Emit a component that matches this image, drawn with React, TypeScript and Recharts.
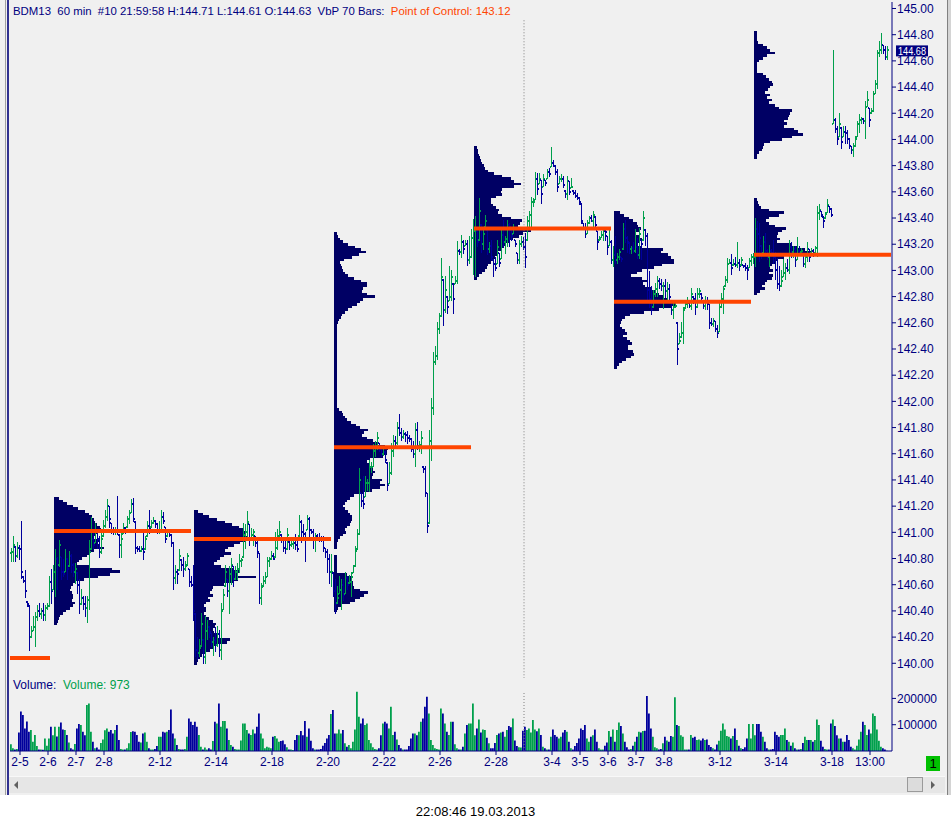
import React from 'react';
import { ComposedChart, Bar, XAxis, YAxis, ReferenceArea, ReferenceLine, Cell } from 'recharts';

// ---------- DATA ----------
// 60-minute bars, index 0 = first visible bar (2-4 evening), 14 bars per trading day
const highs = [
140.88,140.97,140.89,140.92,140.90,141.08,140.66,140.71,140.47,140.44,
140.28,140.36,140.39,140.44,140.46,140.42,140.46,140.44,140.46,140.66,
140.72,140.75,140.87,140.81,140.94,140.81,140.79,140.87,140.80,140.85,
140.83,140.76,140.76,140.69,140.64,140.56,140.51,140.51,140.51,140.94,
141.11,140.99,141.07,141.02,140.97,140.99,141.09,141.17,141.25,141.20,
141.07,141.04,141.04,141.27,140.98,141.02,141.07,141.04,141.12,141.17,
141.25,141.26,141.08,140.89,140.89,140.89,141.02,140.97,141.08,141.17,
141.09,141.11,141.09,141.07,141.08,141.17,141.15,141.04,141.02,141.02,
140.98,140.92,140.75,140.72,140.87,140.79,140.81,140.78,140.84,140.72,
140.66,140.75,140.38,140.20,140.18,140.38,140.18,140.36,140.33,140.28,
140.23,140.20,140.27,140.28,140.25,140.46,140.56,140.75,140.64,140.74,
140.80,140.74,140.74,140.76,140.83,140.80,141.07,141.06,141.16,141.06,
141.03,141.02,140.97,140.93,140.84,140.61,140.66,140.69,140.81,140.81,
140.85,140.84,141.00,141.02,141.08,140.98,140.94,140.93,141.03,140.93,
140.94,140.93,140.98,140.93,141.13,141.09,141.06,141.00,141.13,141.11,
141.02,141.02,140.99,140.98,140.99,140.97,140.97,140.88,140.87,140.83,
140.83,140.69,140.64,140.59,140.66,140.64,140.64,140.69,140.66,140.67,
140.69,140.75,140.89,141.02,141.49,141.30,141.43,141.43,141.40,141.55,
141.53,141.67,141.69,141.76,141.68,141.64,141.65,141.62,141.53,141.53,
141.68,141.74,141.73,141.84,141.90,141.79,141.78,141.76,141.77,141.74,
141.72,141.69,141.83,141.84,141.69,141.77,141.50,141.50,141.30,141.78,
142.02,142.37,142.42,142.60,142.67,143.09,142.93,142.95,142.80,143.03,
143.00,142.90,142.95,143.22,143.16,143.27,143.23,143.23,143.23,143.26,
143.31,143.39,143.41,143.33,143.55,143.35,143.31,143.42,143.31,143.21,
143.23,143.08,143.10,143.23,143.13,143.31,143.38,143.26,143.38,143.36,
143.31,143.35,143.23,143.13,143.23,143.26,143.25,143.28,143.41,143.45,
143.56,143.55,143.75,143.74,143.74,143.69,143.73,143.69,143.77,143.78,
143.94,143.84,143.80,143.77,143.72,143.73,143.72,143.61,143.72,143.68,
143.70,143.61,143.61,143.59,143.56,143.51,143.36,143.36,143.38,143.41,
143.42,143.45,143.41,143.30,143.26,143.30,143.32,143.31,143.26,143.31,
143.23,143.18,143.26,143.13,143.16,143.10,143.36,143.38,143.26,143.21,
143.18,143.21,143.31,143.24,143.32,143.23,143.45,143.31,143.28,142.99,
142.88,142.85,142.90,142.95,142.94,142.93,142.91,142.93,142.91,142.89,
142.77,142.76,142.75,142.60,142.52,142.60,142.72,142.75,142.79,142.75,
142.86,142.80,142.82,142.86,142.86,142.82,142.77,142.80,142.79,142.74,
142.63,142.63,142.61,142.58,142.77,142.82,142.88,142.95,143.09,143.08,
143.12,143.08,143.10,143.21,143.08,143.10,143.04,143.05,143.04,143.09,
143.12,143.13,143.40,143.37,143.36,143.19,143.26,143.28,143.16,143.19,
143.16,143.23,143.14,143.09,143.03,143.00,143.08,143.05,143.08,143.23,
143.21,143.18,143.18,143.25,143.18,143.17,143.13,143.13,143.21,143.16,
143.17,143.16,143.18,143.49,143.50,143.45,143.41,143.44,143.54,143.49,
143.47,144.68,144.16,144.10,144.20,144.09,144.10,144.10,144.07,144.01,
143.95,143.97,144.02,144.14,144.19,144.17,144.16,144.29,144.37,144.24,
144.24,144.37,144.45,144.68,144.75,144.81,144.72,144.71,144.71
];
const lows = [
140.78,140.78,140.78,140.81,140.79,140.65,140.62,140.50,140.43,140.10,
140.20,140.25,140.13,140.33,140.36,140.34,140.33,140.33,140.41,140.43,
140.46,140.56,140.51,140.56,140.74,140.64,140.66,140.70,140.64,140.74,
140.69,140.66,140.61,140.53,140.38,140.45,140.41,140.36,140.31,140.41,
140.87,140.87,140.92,140.88,140.81,140.84,140.97,141.04,141.09,141.04,
140.99,140.98,140.98,140.98,140.81,140.81,140.99,140.99,141.04,141.07,
141.15,141.08,140.84,140.85,140.85,140.85,140.79,140.87,140.97,140.99,
141.04,141.07,141.04,140.99,140.99,141.02,141.07,140.92,140.97,140.97,
140.89,140.56,140.61,140.61,140.71,140.71,140.66,140.71,140.75,140.59,
140.59,140.33,140.05,140.03,140.05,140.13,140.00,140.00,140.18,140.20,
140.13,140.06,140.09,140.13,140.05,140.03,140.41,140.59,140.51,140.38,
140.60,140.59,140.64,140.64,140.69,140.74,140.81,140.88,140.97,140.90,
140.94,140.90,140.89,140.81,140.46,140.45,140.59,140.61,140.66,140.74,
140.79,140.79,140.81,140.87,140.94,140.92,140.85,140.84,140.87,140.87,
140.89,140.88,140.87,140.85,140.97,140.92,140.97,140.78,141.02,140.97,
140.99,140.88,140.85,140.94,140.93,140.93,140.85,140.81,140.69,140.61,
140.59,140.51,140.38,140.46,140.53,140.41,140.48,140.53,140.56,140.61,
140.51,140.69,140.74,140.87,140.98,141.20,141.18,141.27,141.32,141.31,
141.46,141.50,141.58,141.63,141.62,141.58,141.59,141.53,141.32,141.37,
141.44,141.58,141.65,141.67,141.74,141.70,141.72,141.69,141.68,141.69,
141.62,141.57,141.50,141.63,141.62,141.60,141.46,141.27,141.00,141.07,
141.55,141.90,142.28,142.32,142.52,142.65,142.58,142.68,142.67,142.77,
142.77,142.67,142.90,142.90,143.12,143.10,143.13,143.19,143.04,143.05,
143.10,142.97,142.95,143.18,143.23,143.14,143.16,143.33,143.12,143.14,
143.08,142.95,143.00,143.05,143.03,143.09,143.18,143.13,143.18,143.18,
143.23,143.28,143.18,143.05,143.05,143.18,143.16,143.02,143.23,143.33,
143.33,143.49,143.54,143.58,143.66,143.51,143.64,143.65,143.70,143.72,
143.79,143.79,143.73,143.60,143.66,143.68,143.63,143.56,143.54,143.58,
143.63,143.58,143.56,143.54,143.50,143.36,143.31,143.25,143.28,143.36,
143.37,143.31,143.33,143.16,143.23,143.25,143.23,143.23,143.12,143.19,
143.05,143.03,143.05,143.05,143.08,143.07,143.16,143.21,143.14,143.13,
143.13,143.14,143.14,143.09,143.09,143.08,143.23,143.19,142.77,142.72,
142.66,142.72,142.80,142.80,142.86,142.85,142.71,142.79,142.77,142.77,
142.66,142.63,142.72,142.28,142.44,142.49,142.44,142.71,142.72,142.72,
142.70,142.75,142.66,142.72,142.79,142.76,142.71,142.70,142.70,142.56,
142.58,142.57,142.53,142.49,142.53,142.72,142.67,142.88,142.91,143.05,
142.97,143.04,143.03,143.02,143.00,143.04,143.02,143.00,142.93,143.02,
143.04,143.05,143.03,143.13,143.07,143.09,143.13,143.12,143.08,143.03,
143.12,143.05,142.93,142.86,142.85,142.88,142.95,142.93,142.99,142.98,
143.10,143.10,143.03,143.08,143.13,143.13,143.03,143.02,143.07,143.07,
143.13,143.11,143.13,143.11,143.39,143.41,143.33,143.40,143.44,143.44,
143.41,144.12,144.05,143.96,144.02,143.93,144.02,143.97,143.97,143.93,
143.89,143.87,143.95,144.02,144.05,144.12,144.12,144.01,144.25,144.10,
144.20,144.21,144.35,144.39,144.63,144.66,144.66,144.61,144.61
];
const closes = [
140.85,140.90,140.82,140.88,140.87,140.70,140.63,140.55,140.45,140.20,
140.25,140.28,140.35,140.40,140.38,140.40,140.37,140.42,140.44,140.62,
140.55,140.70,140.80,140.75,140.90,140.70,140.68,140.80,140.72,140.82,
140.75,140.70,140.72,140.60,140.45,140.50,140.45,140.42,140.48,140.85,
140.95,140.90,141.00,140.95,140.85,140.95,141.05,141.12,141.20,141.10,
141.02,141.00,141.01,141.00,140.90,140.95,141.03,141.00,141.10,141.15,
141.22,141.10,140.88,140.87,140.86,140.87,140.85,140.95,141.05,141.03,
141.07,141.09,141.06,141.01,141.02,141.12,141.09,140.95,141.00,140.98,
140.92,140.65,140.70,140.68,140.82,140.75,140.72,140.74,140.82,140.62,
140.60,140.40,140.10,140.08,140.12,140.30,140.05,140.25,140.28,140.24,
140.16,140.18,140.14,140.22,140.10,140.40,140.52,140.70,140.55,140.68,
140.75,140.64,140.70,140.72,140.78,140.79,140.98,141.00,141.08,140.95,
140.98,141.00,140.92,140.85,140.50,140.58,140.63,140.66,140.78,140.80,
140.82,140.80,140.88,140.97,141.00,140.95,140.88,140.87,140.98,140.90,
140.91,140.92,140.90,140.87,141.08,141.00,140.99,140.95,141.10,141.02,
141.00,140.95,140.97,140.96,140.95,140.94,140.88,140.85,140.80,140.70,
140.70,140.55,140.45,140.50,140.56,140.60,140.52,140.65,140.60,140.62,
140.66,140.74,140.86,140.99,141.40,141.24,141.22,141.38,141.38,141.50,
141.50,141.62,141.66,141.72,141.65,141.60,141.61,141.55,141.36,141.45,
141.62,141.70,141.68,141.80,141.76,141.73,141.75,141.74,141.72,141.71,
141.64,141.60,141.78,141.66,141.67,141.72,141.48,141.30,141.05,141.70,
141.95,142.30,142.35,142.55,142.65,142.95,142.70,142.85,142.72,142.80,
142.95,142.78,142.92,143.15,143.14,143.22,143.16,143.20,143.08,143.10,
143.25,143.30,143.30,143.22,143.45,143.20,143.28,143.38,143.16,143.19,
143.10,143.05,143.02,143.18,143.06,143.27,143.22,143.24,143.35,143.33,
143.26,143.32,143.20,143.08,143.20,143.22,143.18,143.10,143.38,143.42,
143.52,143.52,143.70,143.62,143.70,143.58,143.70,143.67,143.75,143.74,
143.82,143.80,143.75,143.64,143.70,143.70,143.65,143.58,143.68,143.60,
143.64,143.59,143.57,143.55,143.52,143.38,143.32,143.28,143.36,143.40,
143.38,143.42,143.35,143.22,143.24,143.27,143.30,143.29,143.18,143.22,
143.08,143.12,143.08,143.10,143.14,143.09,143.32,143.25,143.22,143.16,
143.17,143.15,143.18,143.12,143.28,143.20,143.40,143.26,142.85,142.78,
142.70,142.82,142.86,142.92,142.90,142.88,142.88,142.84,142.86,142.80,
142.70,142.72,142.73,142.40,142.46,142.52,142.70,142.74,142.76,142.73,
142.82,142.78,142.72,142.82,142.84,142.79,142.73,142.77,142.74,142.60,
142.59,142.61,142.55,142.52,142.72,142.78,142.86,142.93,143.05,143.06,
143.02,143.05,143.04,143.06,143.03,143.08,143.03,143.02,143.00,143.07,
143.10,143.10,143.32,143.28,143.25,143.12,143.22,143.15,143.10,143.15,
143.13,143.10,143.00,142.90,142.88,142.92,142.98,143.02,143.00,143.18,
143.14,143.16,143.08,143.15,143.14,143.15,143.05,143.10,143.16,143.10,
143.15,143.13,143.17,143.44,143.46,143.42,143.38,143.43,143.50,143.47,
143.42,144.15,144.08,144.00,144.12,143.98,144.06,144.05,144.00,143.95,
143.92,143.95,144.00,144.12,144.15,144.16,144.14,144.25,144.30,144.15,
144.22,144.35,144.42,144.66,144.68,144.72,144.68,144.63,144.68
];
const firstOpen = 140.84;
// hourly volume, thousands of contracts
const volumeK = [
26,10,6,8,70,
150,137,86,112,73,80,35,61,19,6,6,5,48,20,
48,92,60,92,55,92,108,82,80,61,32,10,6,27,
86,103,99,73,60,175,181,73,35,10,13,6,30,44,
79,86,73,80,67,80,99,42,8,6,6,10,29,72,
75,73,61,35,32,67,70,35,10,6,6,8,19,54,
54,73,70,73,80,158,67,48,23,8,6,6,8,54,
124,111,99,111,92,61,16,6,13,6,10,6,38,111,
105,181,92,114,114,86,42,23,16,8,6,6,40,105,
105,80,67,61,82,67,92,143,67,48,10,16,13,10,
54,57,48,35,38,40,26,14,6,6,4,42,61,60,
76,60,114,54,86,39,10,6,6,6,8,20,30,48,
61,141,156,67,67,82,67,80,29,16,23,10,35,82,
225,130,105,124,99,105,42,29,14,8,6,10,60,105,
111,105,86,168,61,73,44,23,10,6,6,6,19,48,
67,67,60,73,111,124,168,206,143,42,23,10,8,6,
162,143,105,73,61,111,111,26,10,6,6,16,67,99,
105,105,181,60,86,120,70,82,80,50,29,10,10,30,
61,67,70,73,54,80,95,90,124,40,19,14,13,77,
92,80,86,70,118,82,75,86,61,16,10,6,6,54,
82,61,54,48,54,70,80,73,35,10,6,19,30,48,
86,80,99,48,35,54,60,82,35,10,6,6,20,32,
76,54,82,35,80,108,95,67,35,14,6,8,20,35,
54,73,70,76,77,209,143,86,54,14,10,6,8,29,
54,40,35,57,54,204,99,95,60,54,6,6,6,61,
50,54,42,44,40,48,42,44,23,15,10,6,25,39,
77,105,82,57,54,48,57,86,42,20,10,8,14,48,
103,48,103,60,103,103,73,54,35,10,6,6,8,73,
61,54,61,61,86,42,35,20,32,10,6,6,8,30,
54,42,42,42,35,42,120,99,39,16,8,6,6,105,
120,95,60,48,48,35,35,61,42,16,10,6,20,44,
73,111,99,61,82,67,143,133,82,39,16,10,6,0.973
];

// date axis: bar index where each labelled session starts
const dayTickBars = [5, 19, 33, 47, 75, 103, 131, 159, 187, 215, 243, 271, 285, 299, 313, 327, 355, 383, 411, 430];
const dayTickLabels = ['2-5', '2-6', '2-7', '2-8', '2-12', '2-14', '2-18', '2-20', '2-22', '2-26', '2-28', '3-4', '3-5', '3-6', '3-7', '3-8', '3-12', '3-14', '3-18', '13:00'];
const priceTicks = [140.0, 140.2, 140.4, 140.6, 140.8, 141.0, 141.2, 141.4, 141.6, 141.8, 142.0, 142.2, 142.4, 142.6, 142.8, 143.0, 143.2, 143.4, 143.6, 143.8, 144.0, 144.2, 144.4, 144.6, 144.8, 145.0];
const volumeTicks = [100, 200];
const monthStartBar = 257;

// Volume-by-price profiles (70-bar windows); rows every 0.02 from the top price
const profileStartBars = [22, 92, 162, 232, 302, 372];
const profileTopPrices = [141.26, 141.16, 143.28, 143.94, 143.44, 144.82];
const profile1 = [5,9,13,19,24,31,35,38,40,41,43,46,47,44,41,40,46,43,46,50,40,36,33,28,25,23,35,58,66,56,44,30,22,19,17,16,18,19,19,18,21,19,16,12,9,6,5,4,3];
const profile2 = [4,9,15,23,31,38,45,50,52,50,53,51,46,40,34,31,37,30,26,23,20,27,39,46,44,62,44,39,30,19,18,16,19,14,16,12,10,12,12,10,12,15,19,22,21,19,20,23,23,36,33,23,19,16,11,8,6,4,3];
const profile3 = [3,4,6,9,14,21,27,32,25,18,10,6,7,8,9,11,14,20,27,33,33,29,28,33,41,29,26,23,18,14,11,8,7,5,4,
3,3,3,3,3,3,3,3,3,3,3,3,3,3,3,3,3,3,3,3,3,3,3,3,3,3,3,3,3,3,3,3,
5,8,9,11,13,17,22,26,34,30,28,33,39,43,51,54,53,53,49,36,33,36,36,39,41,39,38,48,46,51,46,38,29,20,16,13,11,9,11,14,16,18,
18,17,16,13,11,12,9,6,4,3,3,3,0,0,3,3,3,3,3,3,3,13,18,18,19,19,20,26,34,30,26,21,16,8,4,3];
const profile4 = [3,4,4,5,6,7,8,10,11,14,20,28,37,40,47,40,28,27,28,22,17,17,19,22,25,24,28,37,48,46,44,61,57,49,45,39,35,31,30,28,24,23,21,18,17,14,13,11,8,5,3];
const profile5 = [6,10,15,19,23,24,27,25,21,25,28,25,24,28,49,47,54,57,60,60,48,40,28,23,17,28,33,29,31,37,42,45,50,54,60,62,57,45,30,16,11,8,7,6,8,11,13,9,13,16,18,14,14,19,20,17,12,8,5,3];
const profile6 = [3,3,3,3,4,9,13,16,21,13,9,5,3,3,3,3,9,12,15,18,19,16,14,11,16,13,18,15,21,25,38,36,35,34,30,33,30,40,44,49,38,28,16,10,9,8,5,3,3,
0,0,0,0,0,0,0,0,0,0,0,0,0,0,0,
3,4,5,7,15,30,25,15,12,15,21,32,28,24,23,26,23,37,44,51,58,60,30,24,22,18,16,19,15,19,18,13,11,8,11,6,3];
const profileValues = [profile1, profile2, profile3, profile4, profile5, profile6];

// Point of control per window
const pocFromBars = [0, 22, 92, 162, 232, 302, 372];
const pocToBars = [20, 90.5, 160.5, 230.5, 300.5, 370.5, 440.5];
const pocPrices = [140.04, 141.01, 140.95, 141.65, 143.32, 142.76, 143.12];

// ---------- STYLE ----------
const FONT = '"Liberation Sans", Arial, Helvetica, sans-serif';
const NAVY = '#000080';
const BAR_BLUE = '#00009c';
const BAR_GREEN = '#00a04c';
const PROFILE_FILL = '#000064';
const POC_COLOR = '#ff4500';
const PANEL_BG = '#f0f0f0';
const PROFILE_STEP = 0.02;
const PROFILE_X_SCALE = 0.5;
const X_DOMAIN: [number, number] = [0, 441];
const PRICE_DOMAIN: [number, number] = [139.8877, 145.0496];
const VOL_DOMAIN: [number, number] = [0, 277.6];

const bars = closes.map((c, i) => {
  const o = i === 0 ? firstOpen : closes[i - 1];
  return { x: i + 0.5, range: [lows[i], highs[i]], o, c, h: highs[i], l: lows[i], vol: volumeK[i], up: c >= o };
});
const last = bars[bars.length - 1];

const OhlcShape = (props: any) => {
  const { x, y, width, height, payload } = props;
  if (!payload || x == null) return null;
  const { o, c, h, l, up } = payload;
  const span = h - l || 1;
  const hgt = Math.abs(height);
  const top = Math.min(y, y + height);
  const toY = (v: number) => top + ((h - v) / span) * hgt;
  const col = up ? BAR_GREEN : BAR_BLUE;
  const cx = x + width / 2;
  const oy = Math.round(toY(Math.min(h, Math.max(l, o))));
  const cy = Math.round(toY(Math.min(h, Math.max(l, c))));
  const yTop = Math.floor(top);
  const yBot = Math.ceil(top + hgt);
  return (
    <g shapeRendering="crispEdges">
      <rect x={cx} y={yTop} width={1} height={Math.max(1, yBot - yTop)} fill={col} />
      <rect x={cx - 1} y={oy - 1} width={1} height={2} fill={col} />
      <rect x={cx + 1} y={cy - 1} width={1} height={2} fill={col} />
    </g>
  );
};

const PriceTag = (props: any) => {
  const vb = props.viewBox || {};
  const px = (vb.x || 0) + (vb.width || 0) + 4;
  const py = vb.y || 0;
  return (
    <g>
      <rect x={px} y={py - 5} width={32} height={11} fill={NAVY} />
      <text x={px + 2} y={py + 4.5} fill="#ffffff" fontSize={11} fontFamily={FONT} textLength={28} lengthAdjust="spacingAndGlyphs">{last.c.toFixed(2)}</text>
    </g>
  );
};

const profileRects: React.ReactNode[] = [];
profileValues.forEach((vals, pi) => {
  vals.forEach((v, k) => {
    if (!v) return;
    const price = profileTopPrices[pi] - k * PROFILE_STEP;
    profileRects.push(
      <ReferenceArea
        key={`pr-${pi}-${k}`}
        x1={profileStartBars[pi]}
        x2={profileStartBars[pi] + v * PROFILE_X_SCALE}
        y1={price - PROFILE_STEP / 2}
        y2={price + PROFILE_STEP / 2}
        fill={PROFILE_FILL}
        fillOpacity={1}
        stroke="none"
        shapeRendering="crispEdges"
        ifOverflow="visible"
      />
    );
  });
});

const pocLines = pocPrices.map((p, i) => (
  <ReferenceLine
    key={`poc-${i}`}
    segment={[{ x: pocFromBars[i], y: p }, { x: pocToBars[i], y: p }]}
    stroke={POC_COLOR}
    strokeWidth={4}
    ifOverflow="visible"
  />
));

const tickLabel = (v: number) => {
  const idx = dayTickBars.indexOf(v);
  return idx >= 0 ? dayTickLabels[idx] : '';
};

export default function App() {
  const headerMain = `BDM13  60 min  #10 21:59:58 H:${last.h.toFixed(2)} L:${last.l.toFixed(2)} O:${last.o.toFixed(2)}  VbP 70 Bars:  `;
  return (
    <div style={{ position: 'absolute', left: 0, top: 0, width: 951, height: 829, background: '#ffffff', overflow: 'hidden', fontFamily: FONT }}>
      <div style={{ position: 'absolute', left: 0, top: 0, width: 947, height: 795, background: PANEL_BG }} />
      <div style={{ position: 'absolute', left: 5, top: 0, width: 1, height: 795, background: '#a0a0a0' }} />
      <div style={{ position: 'absolute', left: 7, top: 0, width: 2, height: 795, background: '#303090' }} />
      <div style={{ position: 'absolute', left: 947, top: 0, width: 1, height: 795, background: '#808080' }} />
      <div style={{ position: 'absolute', left: 948, top: 0, width: 3, height: 795, background: '#d4d4d4' }} />

      <div style={{ position: 'absolute', left: 0, top: 0 }}>
        <ComposedChart width={951} height={678} data={bars} margin={{ top: 2, right: 0, bottom: 0, left: 10 }}>
          <XAxis type="number" dataKey="x" domain={X_DOMAIN} hide allowDataOverflow />
          <YAxis
            orientation="right"
            type="number"
            domain={PRICE_DOMAIN}
            allowDataOverflow
            ticks={priceTicks}
            interval={0}
            width={59}
            tickSize={4}
            tickMargin={1}
            axisLine={{ stroke: NAVY }}
            tickLine={{ stroke: NAVY }}
            tick={{ fill: NAVY, fontSize: 12, fontFamily: FONT }}
            tickFormatter={(v: number) => v.toFixed(2)}
          />
          {profileRects}
          <ReferenceLine
            segment={[{ x: monthStartBar, y: 144.91 }, { x: monthStartBar, y: PRICE_DOMAIN[0] }]}
            stroke="#808080"
            strokeDasharray="1 2"
            ifOverflow="visible"
          />
          <Bar dataKey="range" barSize={2} shape={OhlcShape} isAnimationActive={false} />
          {pocLines}
          <ReferenceLine y={last.c} stroke="none" ifOverflow="visible" label={<PriceTag />} />
        </ComposedChart>
      </div>

      <div style={{ position: 'absolute', left: 0, top: 678 }}>
        <ComposedChart width={951} height={100} data={bars} margin={{ top: 0, right: 0, bottom: 0, left: 10 }}>
          <XAxis
            type="number"
            dataKey="x"
            domain={X_DOMAIN}
            allowDataOverflow
            ticks={dayTickBars}
            interval={0}
            height={27}
            tickSize={4}
            tickMargin={2}
            axisLine={{ stroke: NAVY }}
            tickLine={{ stroke: NAVY }}
            tick={{ fill: NAVY, fontSize: 12, fontFamily: FONT }}
            tickFormatter={tickLabel}
          />
          <YAxis
            orientation="right"
            type="number"
            domain={VOL_DOMAIN}
            allowDataOverflow
            ticks={volumeTicks}
            interval={0}
            width={59}
            tickSize={4}
            tickMargin={1}
            axisLine={{ stroke: NAVY }}
            tickLine={{ stroke: NAVY }}
            tick={{ fill: NAVY, fontSize: 12, fontFamily: FONT }}
            tickFormatter={(v: number) => String(v * 1000)}
          />
          <ReferenceLine
            segment={[{ x: monthStartBar, y: 0 }, { x: monthStartBar, y: 224 }]}
            stroke="#808080"
            strokeDasharray="1 2"
            ifOverflow="visible"
          />
          <Bar dataKey="vol" barSize={2} isAnimationActive={false}>
            {bars.map((b, i) => (
              <Cell key={`v-${i}`} fill={b.up ? BAR_GREEN : BAR_BLUE} />
            ))}
          </Bar>
        </ComposedChart>
      </div>

      <div style={{ position: 'absolute', left: 13, top: 4, fontSize: 11.4, lineHeight: '14px', whiteSpace: 'pre', color: NAVY }}>
        {headerMain}
        <span style={{ color: POC_COLOR }}>{`Point of Control: ${pocPrices[pocPrices.length - 1].toFixed(2)}`}</span>
      </div>
      <div style={{ position: 'absolute', left: 13, top: 678, fontSize: 12, lineHeight: '14px', whiteSpace: 'pre', color: NAVY }}>
        {'Volume:  '}
        <span style={{ color: BAR_GREEN }}>{`Volume: ${Math.round(last.vol * 1000)}`}</span>
      </div>

      <div style={{ position: 'absolute', left: 926, top: 756, width: 14, height: 15, background: '#00c000', color: '#000', fontSize: 13, lineHeight: '15px', textAlign: 'center' }}>1</div>

      <div style={{ position: 'absolute', left: 9, top: 776, width: 936, height: 16, background: '#e6e6e6', borderTop: '1px solid #f8f8f8' }} />
      <div style={{ position: 'absolute', left: 14, top: 781, width: 0, height: 0, borderTop: '4px solid transparent', borderBottom: '4px solid transparent', borderRight: '4px solid #606060' }} />
      <div style={{ position: 'absolute', left: 907, top: 777, width: 14, height: 13, background: '#dcdcdc', border: '1px solid #9a9a9a' }} />
      <div style={{ position: 'absolute', left: 931, top: 781, width: 0, height: 0, borderTop: '4px solid transparent', borderBottom: '4px solid transparent', borderLeft: '4px solid #606060' }} />

      <div style={{ position: 'absolute', left: 0, top: 804, width: 951, textAlign: 'center', fontSize: 13, lineHeight: '15px', color: '#000' }}>
        22:08:46 19.03.2013
      </div>
    </div>
  );
}
